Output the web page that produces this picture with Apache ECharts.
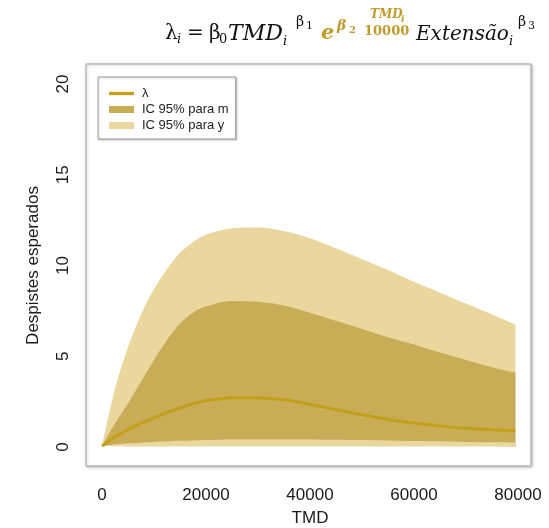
<!DOCTYPE html>
<html>
<head>
<meta charset="utf-8">
<script src="https://cdn.jsdelivr.net/npm/echarts@6/dist/echarts.min.js"></script>
<style>
  html, body { margin: 0; padding: 0; background: #fff; }
  #chart { width: 549px; height: 528px; }
</style>
</head>
<body>
<div id="chart"></div>
<script>
// dados
const tmd = [0, 2500, 5000, 7500, 10000, 12500, 15000, 17500, 20000, 25000, 30000,
  35000, 40000, 45000, 50000, 55000, 60000, 65000, 70000, 75000, 79500]
const lambda = [0.05, 0.55, 0.95, 1.3, 1.6, 1.9, 2.15, 2.38, 2.55, 2.72, 2.72,
  2.6, 2.35, 2.05, 1.78, 1.52, 1.32, 1.15, 1.03, 0.95, 0.9]
const icMLow = [0.05, 0.15, 0.2, 0.24, 0.28, 0.31, 0.34, 0.36, 0.38, 0.41, 0.42,
  0.42, 0.42, 0.4, 0.38, 0.36, 0.33, 0.31, 0.28, 0.26, 0.25]
const icMHigh = [0.05, 1.3, 2.4, 3.6, 4.8, 5.9, 6.8, 7.4, 7.75, 8.05, 8.0,
  7.8, 7.4, 6.95, 6.5, 6.05, 5.65, 5.2, 4.8, 4.4, 4.1]
const icYLow = [0.05, 0.04, 0.03, 0.03, 0.03, 0.03, 0.03, 0.03, 0.03, 0.03, 0.03,
  0.03, 0.03, 0.03, 0.03, 0.03, 0.03, 0.03, 0.03, 0.03, 0.03]
const icYHigh = [0.05, 3.2, 5.5, 7.3, 8.7, 9.8, 10.7, 11.3, 11.7, 12.05, 12.1,
  11.9, 11.5, 10.95, 10.35, 9.75, 9.1, 8.5, 7.9, 7.3, 6.75]
const xTicks = [0, 20000, 40000, 60000, 80000]
const yTicks = [0, 5, 10, 15, 20]

const gold = '#C4A01A'
const goldTitle = '#BF9B2C'
const corM = '#C9AC56'
const corY = '#E9D79E'

const pares = (ys) => tmd.map((x, i) => [x, ys[i]])

// fórmula do título, peça a peça
const serif = 'DejaVu Serif'
const peca = (text, x, base, size, o = {}) => ({
  type: 'text',
  x: x,
  y: base - 0.32 * size,
  style: {
    text: text,
    fontSize: size,
    fontFamily: serif,
    fontStyle: o.it ? 'italic' : 'normal',
    fontWeight: o.b ? 'bold' : 'normal',
    fill: o.g ? goldTitle : '#111',
    align: 'left',
    verticalAlign: 'middle'
  }
})
const formula = [
  peca('λ', 165, 40, 20),
  peca('i', 177, 44, 13, { it: true }),
  peca('=', 187, 40, 20),
  peca('β', 209, 40, 20),
  peca('0', 219, 44, 13),
  peca('TMD', 228, 41, 22, { it: true }),
  peca('i', 283, 46, 13, { it: true }),
  peca('β', 296, 27, 14),
  peca('1', 306, 30, 11),
  peca('e', 321, 40, 21, { it: true, b: true, g: true }),
  peca('β', 337, 31, 14, { it: true, b: true, g: true }),
  peca('2', 349, 34, 10, { b: true, g: true }),
  peca('TMD', 370, 19, 12, { it: true, b: true, g: true }),
  peca('i', 401, 23, 9, { it: true, b: true, g: true }),
  peca('10000', 364, 36, 13, { b: true, g: true }),
  peca('Extensão', 416, 41, 20, { it: true }),
  peca('i', 509, 46, 13, { it: true }),
  peca('β', 518, 27, 14),
  peca('3', 528, 30, 11)
]

// faixa preenchida até zero; as faixas sobrepostas formam os intervalos
const faixa = (name, ys, cor, z) => ({
  name: name, type: 'line', data: pares(ys), smooth: 0.3,
  symbol: 'none', lineStyle: { opacity: 0 }, itemStyle: { color: cor },
  areaStyle: { color: cor, opacity: 1, origin: 'start' }, silent: true, z: z
})

const chart = echarts.init(document.getElementById('chart'))

const option = {
  animation: false,
  backgroundColor: '#fff',
  textStyle: { fontFamily: 'Liberation Sans' },
  graphic: formula,
  grid: [
    { left: 102, right: 31, top: 84, bottom: 81, show: false, outerBoundsMode: 'none' },
    {
      left: 86, right: 18, top: 64, bottom: 62, show: true, outerBoundsMode: 'none',
      backgroundColor: '#fff', borderColor: '#a3a3a3', borderWidth: 1,
      shadowBlur: 3, shadowColor: 'rgba(0,0,0,0.25)', shadowOffsetX: 1, shadowOffsetY: 1
    }
  ],
  legend: {
    orient: 'vertical',
    left: 98,
    top: 77,
    padding: [10, 7, 7, 11],
    itemGap: 3,
    itemWidth: 25,
    itemHeight: 7,
    backgroundColor: '#fff',
    borderColor: '#9a9a9a',
    borderWidth: 1,
    borderRadius: 0,
    shadowBlur: 2,
    shadowColor: 'rgba(0,0,0,0.2)',
    shadowOffsetX: 1,
    shadowOffsetY: 1,
    textStyle: { fontSize: 13, color: '#222', lineHeight: 13, padding: [0, 0, 0, 3] },
    data: [
      { name: 'λ', icon: 'path://M0,0L30,0L30,4L0,4Z' },
      { name: 'IC 95% para m', icon: 'rect' },
      { name: 'IC 95% para y', icon: 'rect' }
    ]
  },
  xAxis: [
    {
      type: 'value', gridIndex: 0, min: 0, max: 80000, interval: 20000,
      axisLine: { show: false }, axisTick: { show: false }, splitLine: { show: false },
      axisLabel: {
        margin: 40, fontSize: 17, color: '#1a1a1a',
        customValues: xTicks,
        formatter: (v) => String(v)
      },
      name: 'TMD', nameLocation: 'middle', nameGap: 63,
      nameTextStyle: { fontSize: 17, color: '#1a1a1a' }
    },
    { type: 'value', gridIndex: 1, show: false }
  ],
  yAxis: [
    {
      type: 'value', gridIndex: 0, min: 0, max: 20, interval: 5,
      axisLine: { show: false }, axisTick: { show: false }, splitLine: { show: false },
      axisLabel: {
        margin: 30, fontSize: 17, color: '#1a1a1a', rotate: 90,
        customValues: yTicks
      },
      name: 'Despistes esperados', nameLocation: 'middle', nameGap: 60,
      nameTextStyle: { fontSize: 17, color: '#1a1a1a' }
    },
    { type: 'value', gridIndex: 1, show: false }
  ],
  series: [
    faixa('IC 95% para y', icYHigh, corY, 1),
    faixa('IC 95% para m', icMHigh, corM, 2),
    faixa('mBase', icMLow, corY, 3),
    faixa('yBase', icYLow, '#ffffff', 4),
    {
      name: 'λ', type: 'line', data: pares(lambda), smooth: 0.3,
      symbol: 'none', itemStyle: { color: gold },
      lineStyle: { color: gold, width: 3 }, z: 5
    }
  ]
}

chart.setOption(option)
</script>
</body>
</html>
